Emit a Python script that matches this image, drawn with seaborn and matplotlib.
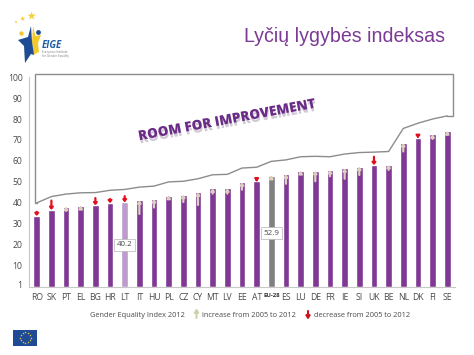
import matplotlib
matplotlib.use("Agg")
import matplotlib.pyplot as plt
import matplotlib.patheffects as pe
from matplotlib.patches import Rectangle, Polygon
import numpy as np
import pandas as pd
import seaborn as sns

countries = ["RO","SK","PT","EL","BG","HR","LT","IT","HU","PL","CZ","CY","MT","LV",
             "EE","AT","EU-28","ES","LU","DE","FR","IE","SI","UK","BE","NL","DK","FI","SE"]
index_2012 = [33.7,36.6,38.2,38.5,38.8,39.8,40.2,41.2,41.8,43.4,43.9,45.0,46.9,46.9,
              49.8,50.2,52.9,53.6,55.2,55.3,55.7,56.5,57.3,58.0,58.2,68.5,70.9,72.7,74.2]
upper_line = [40.0,43.0,44.2,44.8,44.9,46.0,46.4,47.5,48.0,50.0,50.3,51.5,53.4,53.6,
              56.6,57.0,59.8,60.5,62.0,62.2,62.0,63.3,64.0,64.2,64.5,75.5,78.0,80.0,81.5]
increase = [0,0,2.0,1.0,0,0,0,6.5,4.0,1.5,3.5,6.0,2.5,2.5,
            3.5,0,0.8,4.5,1.5,5.0,3.0,5.0,4.0,0,2.5,4.0,0,2.2,1.5]
decrease = [2.0,4.5,0,0,3.5,2.0,3.0,0,0,0,0,0,0,0,
            0,0.8,0,0,0,0,0,0,0,4.0,0,0,1.5,0,0]
y_ticks = [1,10,20,30,40,50,60,70,80,90,100]
y_tick_labels = ["1","10","20","30","40","50","60","70","80","90","100"]
callouts = {"LT": ("40.2", 20.0), "EU-28": ("52.9", 25.5)}
frame_top = 101.7

PURPLE = "#7F3893"
TXT = "#4a4a4a"
W, H = 474, 355
sns.set_style("white")
plt.rcParams["font.family"] = ["Open Sans", "DejaVu Sans"]

fig = plt.figure(figsize=(W/100, H/100), dpi=100, facecolor="white")

ax = fig.add_axes([29.4/W, (H-286.7)/H, 425.2/W, 215.9/H], zorder=1)
ax.patch.set_alpha(0)

page = fig.add_axes([0, 0, 1, 1], zorder=2)
page.set_xlim(0, W); page.set_ylim(H, 0); page.axis("off")
page.patch.set_alpha(0)

df = pd.DataFrame({"country": countries, "value": index_2012})
palette = {c: PURPLE for c in countries}
palette["LT"] = "#BD9CCB"
palette["EU-28"] = "#808080"
sns.barplot(data=df, x="country", y="value", hue="country", palette=palette,
            order=countries, width=0.46, legend=False, saturation=1, ax=ax)

pos = np.arange(len(countries))
sns.lineplot(x=pos, y=upper_line, color="#8c8c8c", lw=1.0, ax=ax, legend=False)
left, right = pos[0]-0.13, pos[-1]+0.37
ax.plot([pos[0], left, left, right, right, pos[-1]],
        [upper_line[0], upper_line[0], frame_top, frame_top, upper_line[-1], upper_line[-1]],
        color="#8c8c8c", lw=1.0, solid_joinstyle="miter")

for p, v, up, down in zip(pos, index_2012, increase, decrease):
    if up:
        ax.annotate("", xy=(p, v), xytext=(p, v-up),
                    arrowprops=dict(arrowstyle="-|>,head_width=0.09,head_length=0.12",
                                    color="#DCCFC0", lw=1.6, shrinkA=0, shrinkB=0))
    if down:
        ax.annotate("", xy=(p, v), xytext=(p, v+down),
                    arrowprops=dict(arrowstyle="-|>,head_width=0.1,head_length=0.12",
                                    color="#E2101E", lw=1.6, shrinkA=0, shrinkB=0))

for c, (s, y) in callouts.items():
    ax.text(countries.index(c), y, s, ha="center", va="center", fontsize=5.8, color=TXT, zorder=6,
            bbox=dict(boxstyle="square,pad=0.3", fc="white", ec="#b5b5b5", lw=0.5))

ax.set_xlim(-0.5, len(countries)-0.5)
ax.set_ylim(0, 103)
ax.set_xlabel(""); ax.set_ylabel("")
ax.set_yticks(y_ticks)
ax.set_yticklabels(y_tick_labels, fontsize=6.2, color=TXT)
ax.set_xticks(pos)
ax.set_xticklabels(countries, fontsize=6.2, color=TXT)
for lab in ax.get_xticklabels():
    if lab.get_text() == "EU-28":
        lab.set_fontweight("bold"); lab.set_fontsize(4.3); lab.set_color("#333333")
ax.set_xticks(pos[:-1]+0.5, minor=True)
ax.tick_params(axis="x", which="major", length=0, pad=4.5)
ax.tick_params(axis="x", which="minor", length=1.5, color="#c4c4c4", width=0.6)
ax.tick_params(axis="y", length=2, color="#c4c4c4", width=0.6, pad=3)
for s in ("top", "right"):
    ax.spines[s].set_visible(False)
for s in ("left", "bottom"):
    ax.spines[s].set_color("#c8c8c8"); ax.spines[s].set_linewidth(0.8)
ax.spines["left"].set_bounds(0, 100)

# banner
page.text(227, 121, "ROOM FOR IMPROVEMENT", rotation=10.5, rotation_mode="anchor",
          ha="center", va="center", fontsize=9.7, fontweight="heavy", color="#6A2C86", zorder=5,
          path_effects=[pe.withSimplePatchShadow(offset=(0.6, -2.2), shadow_rgbFace="#9a8aa6", alpha=0.45)])

# title
page.text(445, 36, "Lyčių lygybės indeksas", ha="right", va="center", fontsize=14.1,
          color="#7B3A94", family=["Liberation Sans", "DejaVu Sans"])

# legend line
page.text(90, 315.5, "Gender Equality Index 2012", ha="left", va="center", fontsize=5.3, color=TXT)
page.text(202.5, 315.5, "increase from 2005 to 2012", ha="left", va="center", fontsize=5.3, color=TXT)
page.text(314.5, 315.5, "decrease from 2005 to 2012", ha="left", va="center", fontsize=5.3, color=TXT)
page.annotate("", xy=(196.5, 308.5), xytext=(196.5, 318),
              arrowprops=dict(arrowstyle="-|>,head_width=0.12,head_length=0.18", color="#CBD3A8", lw=1.5,
                              shrinkA=0, shrinkB=0))
page.annotate("", xy=(308, 319.5), xytext=(308, 311),
              arrowprops=dict(arrowstyle="-|>,head_width=0.12,head_length=0.18", color="#D3101E", lw=1.5,
                              shrinkA=0, shrinkB=0))

# EIGE logo
page.scatter([31.7, 22.7, 16], [16, 18.7, 22], marker="*", s=[42, 16, 6], color="#F5CF3A", lw=0)
page.add_patch(Polygon([(33,26),(35.5,36),(41,35),(38,43),(39,52),(33,55),(32,42)], fc="#F4C92C", ec="none"))
page.add_patch(Polygon([(31,26),(28,37),(18,40),(24,46),(25,63),(31,54),(34,55),(32,42)], fc="#1D4C94", ec="none"))
page.scatter([38], [32], marker="o", s=12, color="#1D4C94", lw=0)
page.scatter([21.5], [33], marker="o", s=10, color="#F4C92C", lw=0)
page.text(42, 45.5, "EIGE", fontsize=6.9, fontstyle="italic", fontweight="bold", color="#1F5FA5", va="center")
page.text(42, 54, "European Institute\nfor Gender Equality", fontsize=2.2, color="#808080", va="center")

# EU flag
page.add_patch(Rectangle((13.5, 329.5), 24, 16, fc="#1F4A96", ec="none"))
angles = np.deg2rad(np.arange(0, 360, 30))
page.scatter(25.5+5.5*np.cos(angles), 337.5+5.5*np.sin(angles), marker="*", s=3, color="#F2D13C", lw=0)

fig.savefig("out.png", dpi=100, facecolor="white")
